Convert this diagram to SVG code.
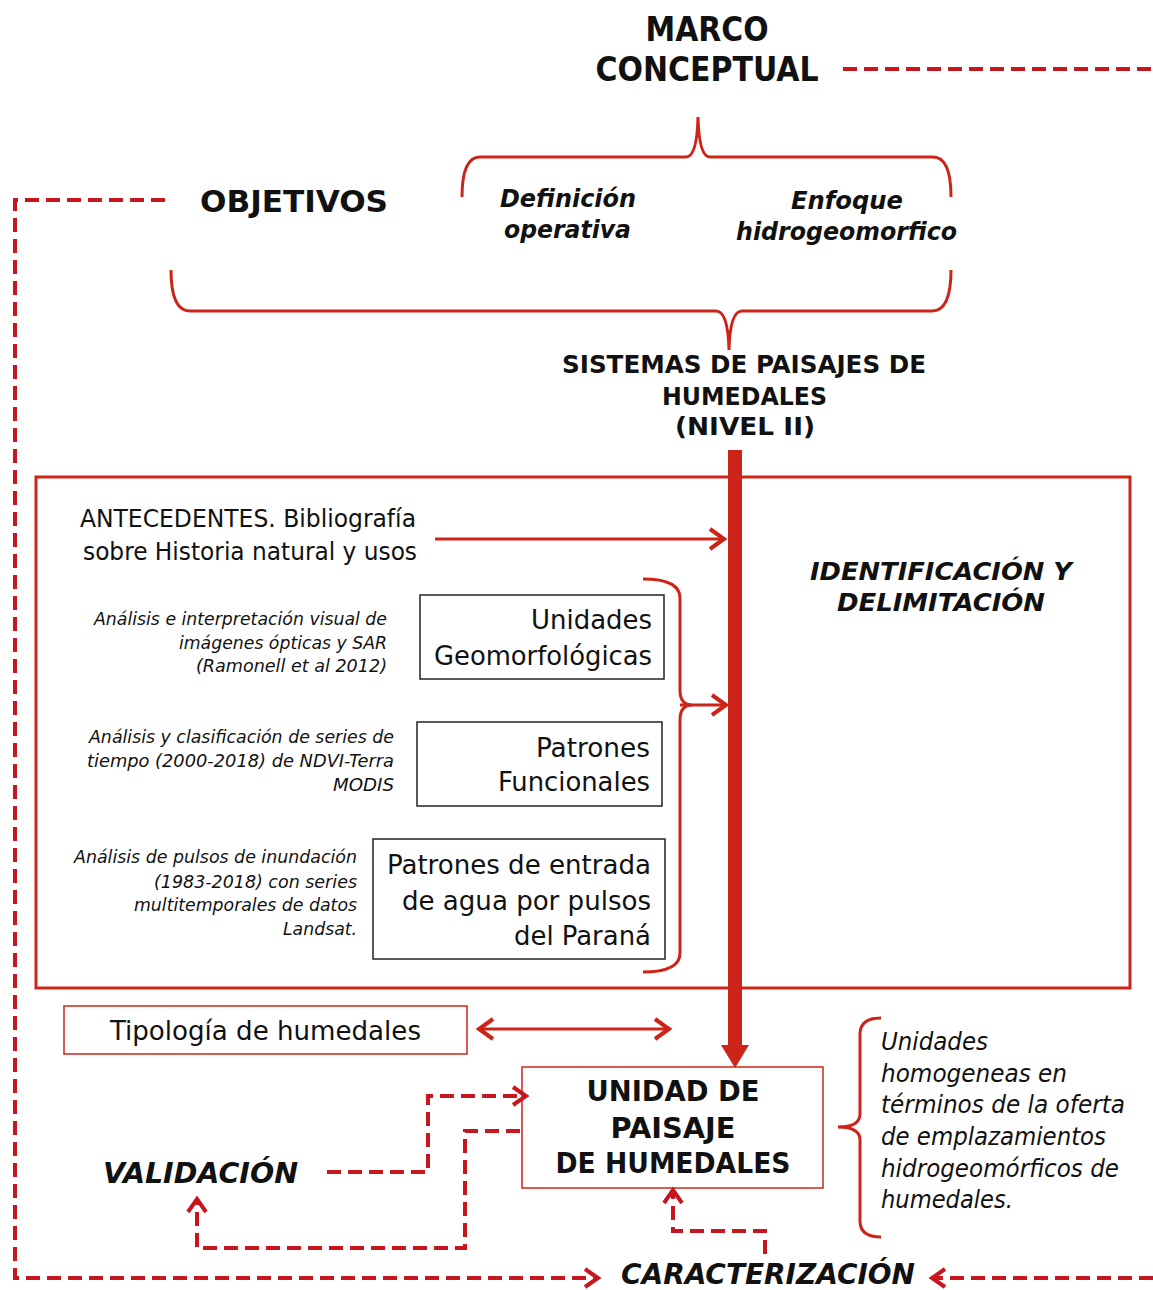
<svg xmlns="http://www.w3.org/2000/svg" width="1153" height="1290" viewBox="0 0 1153 1290">
<style>
.t{font-family:"DejaVu Sans Condensed","DejaVu Sans",sans-serif;fill:#111}
.b{font-weight:bold}
.i{font-style:italic}
.v{font-family:"DejaVu Sans","Liberation Sans",sans-serif;fill:#111}
.red{fill:none;stroke:#cc2418;stroke-width:3}
.dash{fill:none;stroke:#c8161e;stroke-width:4;stroke-dasharray:14 7}
.box{fill:#fff;stroke:#222;stroke-width:1.5}
.rbox{fill:#fff;stroke:#cc2418;stroke-width:1.5}
</style>
<defs>
<marker id="ah" markerUnits="userSpaceOnUse" markerWidth="24" markerHeight="24" refX="20" refY="12" orient="auto-start-reverse" viewBox="0 0 24 24">
<path d="M6,2 L20,12 L6,22" fill="none" stroke="#cc2418" stroke-width="4"/>
</marker>
<marker id="ahd" markerUnits="userSpaceOnUse" markerWidth="24" markerHeight="24" refX="20" refY="12" orient="auto-start-reverse" viewBox="0 0 24 24">
<path d="M7,3 L20,12 L7,21" fill="none" stroke="#c8161e" stroke-width="4"/>
</marker>
</defs>
<rect width="1153" height="1290" fill="#fff"/>

<g id="marco">
<text class="t b" x="707" y="41" font-size="33" text-anchor="middle" textLength="123" lengthAdjust="spacingAndGlyphs">MARCO</text>
<text class="t b" x="707" y="81" font-size="33" text-anchor="middle" textLength="223" lengthAdjust="spacingAndGlyphs">CONCEPTUAL</text>
</g>
<g id="objetivos">
<text class="t b" x="200" y="212" font-size="31" textLength="188" lengthAdjust="spacingAndGlyphs">OBJETIVOS</text>
</g>
<g id="definicion">
<text class="t b i" x="500" y="207" font-size="24" textLength="136" lengthAdjust="spacingAndGlyphs">Definición</text>
<text class="t b i" x="504" y="238" font-size="24" textLength="127" lengthAdjust="spacingAndGlyphs">operativa</text>
</g>
<g id="enfoque">
<text class="t b i" x="791" y="209" font-size="24" textLength="112" lengthAdjust="spacingAndGlyphs">Enfoque</text>
<text class="t b i" x="736" y="240" font-size="24" textLength="221" lengthAdjust="spacingAndGlyphs">hidrogeomorfico</text>
</g>
<g id="sistemas">
<text class="t b" x="562" y="373" font-size="24" textLength="364" lengthAdjust="spacingAndGlyphs">SISTEMAS DE PAISAJES DE</text>
<text class="t b" x="662" y="405" font-size="24" textLength="165" lengthAdjust="spacingAndGlyphs">HUMEDALES</text>
<text class="t b" x="675" y="435" font-size="24" textLength="140" lengthAdjust="spacingAndGlyphs">(NIVEL II)</text>
</g>

<g id="identificacion">
<rect x="36" y="477" width="1094" height="511" class="red"/>
<text class="v b i" x="810" y="580" font-size="24" textLength="262" lengthAdjust="spacingAndGlyphs">IDENTIFICACIÓN Y</text>
<text class="v b i" x="837" y="611" font-size="24" textLength="208" lengthAdjust="spacingAndGlyphs">DELIMITACIÓN</text>
</g>
<g id="antecedentes">
<text class="t" x="80" y="527" font-size="24" textLength="336" lengthAdjust="spacingAndGlyphs">ANTECEDENTES. Bibliografía</text>
<text class="t" x="83" y="560" font-size="24" textLength="334" lengthAdjust="spacingAndGlyphs">sobre Historia natural y usos</text>
</g>
<g id="unidades-geo">
<rect x="420" y="595" width="244" height="84" class="box"/>
<text class="t" x="652" y="629" font-size="26" text-anchor="end" textLength="121" lengthAdjust="spacingAndGlyphs">Unidades</text>
<text class="t" x="652" y="665" font-size="26" text-anchor="end" textLength="218" lengthAdjust="spacingAndGlyphs">Geomorfológicas</text>
<text class="t i" x="387" y="625" font-size="18" text-anchor="end" textLength="293" lengthAdjust="spacingAndGlyphs">Análisis e interpretación visual de</text>
<text class="t i" x="387" y="649" font-size="18" text-anchor="end" textLength="208" lengthAdjust="spacingAndGlyphs">imágenes ópticas y SAR</text>
<text class="t i" x="387" y="672" font-size="18" text-anchor="end" textLength="191" lengthAdjust="spacingAndGlyphs">(Ramonell et al 2012)</text>
</g>
<g id="patrones-func">
<rect x="417" y="722" width="245" height="84" class="box"/>
<text class="t" x="650" y="757" font-size="26" text-anchor="end" textLength="114" lengthAdjust="spacingAndGlyphs">Patrones</text>
<text class="t" x="650" y="791" font-size="26" text-anchor="end" textLength="152" lengthAdjust="spacingAndGlyphs">Funcionales</text>
<text class="t i" x="394" y="743" font-size="18" text-anchor="end" textLength="305" lengthAdjust="spacingAndGlyphs">Análisis y clasificación de series de</text>
<text class="t i" x="394" y="767" font-size="18" text-anchor="end" textLength="307" lengthAdjust="spacingAndGlyphs">tiempo (2000-2018) de NDVI-Terra</text>
<text class="t i" x="394" y="791" font-size="18" text-anchor="end" textLength="61" lengthAdjust="spacingAndGlyphs">MODIS</text>
</g>
<g id="patrones-entrada">
<rect x="373" y="839" width="292" height="120" class="box"/>
<text class="t" x="651" y="874" font-size="26" text-anchor="end" textLength="264" lengthAdjust="spacingAndGlyphs">Patrones de entrada</text>
<text class="t" x="651" y="910" font-size="26" text-anchor="end" textLength="249" lengthAdjust="spacingAndGlyphs">de agua por pulsos</text>
<text class="t" x="651" y="945" font-size="26" text-anchor="end" textLength="137" lengthAdjust="spacingAndGlyphs">del Paraná</text>
<text class="t i" x="357" y="863" font-size="18" text-anchor="end" textLength="283" lengthAdjust="spacingAndGlyphs">Análisis de pulsos de inundación</text>
<text class="t i" x="357" y="888" font-size="18" text-anchor="end" textLength="203" lengthAdjust="spacingAndGlyphs">(1983-2018) con series</text>
<text class="t i" x="357" y="911" font-size="18" text-anchor="end" textLength="223" lengthAdjust="spacingAndGlyphs">multitemporales de datos</text>
<text class="t i" x="357" y="935" font-size="18" text-anchor="end" textLength="74" lengthAdjust="spacingAndGlyphs">Landsat.</text>
</g>
<g id="tipologia">
<rect x="64" y="1006" width="403" height="48" class="rbox"/>
<text class="t" x="110" y="1040" font-size="26" textLength="311" lengthAdjust="spacingAndGlyphs">Tipología de humedales</text>
</g>
<g id="unidad-paisaje">
<rect x="522" y="1067" width="301" height="121" class="rbox"/>
<text class="v b" x="673" y="1101" font-size="28" text-anchor="middle" textLength="173" lengthAdjust="spacingAndGlyphs">UNIDAD DE</text>
<text class="v b" x="673" y="1138" font-size="28" text-anchor="middle" textLength="125" lengthAdjust="spacingAndGlyphs">PAISAJE</text>
<text class="v b" x="673" y="1173" font-size="28" text-anchor="middle" textLength="235" lengthAdjust="spacingAndGlyphs">DE HUMEDALES</text>
</g>
<g id="unidades-homogeneas">
<text class="t i" x="881" y="1050" font-size="24" textLength="107" lengthAdjust="spacingAndGlyphs">Unidades</text>
<text class="t i" x="881" y="1082" font-size="24" textLength="186" lengthAdjust="spacingAndGlyphs">homogeneas en</text>
<text class="t i" x="881" y="1113" font-size="24" textLength="244" lengthAdjust="spacingAndGlyphs">términos de la oferta</text>
<text class="t i" x="881" y="1145" font-size="24" textLength="225" lengthAdjust="spacingAndGlyphs">de emplazamientos</text>
<text class="t i" x="881" y="1177" font-size="24" textLength="238" lengthAdjust="spacingAndGlyphs">hidrogeomórficos de</text>
<text class="t i" x="881" y="1208" font-size="24" textLength="132" lengthAdjust="spacingAndGlyphs">humedales.</text>
</g>
<g id="validacion">
<text class="t b i" x="103" y="1183" font-size="29" textLength="195" lengthAdjust="spacingAndGlyphs">VALIDACIÓN</text>
</g>
<g id="caracterizacion">
<text class="t b i" x="621" y="1284" font-size="28" textLength="294" lengthAdjust="spacingAndGlyphs">CARACTERIZACIÓN</text>
</g>

<g id="connectors">
<path class="red" d="M462,197 Q462,157 480,157 L686,157 Q697,157 698,117 Q699,157 710,157 L933,157 Q951,157 951,197"/>
<path class="red" d="M171,270 Q171,311 190,311 L716,311 Q728,311 729,350 Q730,311 742,311 L932,311 Q951,311 951,270"/>
<path class="red" d="M643,579 Q680,579 680,598 L680,690 Q680,705 692,705 Q680,705 680,720 L680,953 Q680,972 643,972"/>
<path class="red" d="M881,1018 Q860,1018 860,1034 L860,1114 Q860,1127 838,1127 Q860,1127 860,1140 L860,1221 Q860,1237 881,1237"/>
<rect x="728" y="450" width="14" height="598" fill="#cc2418"/>
<polygon points="721,1045 749,1045 735,1068" fill="#cc2418"/>
<line x1="435" y1="539" x2="724" y2="539" class="red" marker-end="url(#ah)"/>
<line x1="680" y1="705" x2="726" y2="705" class="red" marker-end="url(#ah)"/>
<line x1="479" y1="1029" x2="669" y2="1029" class="red" stroke-width="4" marker-start="url(#ah)" marker-end="url(#ah)"/>
<path class="dash" d="M843,69 L1153,69" stroke="#b5202a"/>
<path class="dash" d="M165,200 L15,200 L15,1278 L598,1278" marker-end="url(#ahd)"/>
<path class="dash" d="M1153,1278 L932,1278" marker-end="url(#ahd)"/>
<path class="dash" d="M327,1172 L428,1172 L428,1096 L526,1096" marker-end="url(#ahd)"/>
<path class="dash" d="M520,1131 L465,1131 L465,1248 L197,1248 L197,1199" marker-end="url(#ahd)"/>
<path class="dash" d="M765,1254 L765,1231 L673,1231 L673,1190" marker-end="url(#ahd)"/>
</g>
</svg>
